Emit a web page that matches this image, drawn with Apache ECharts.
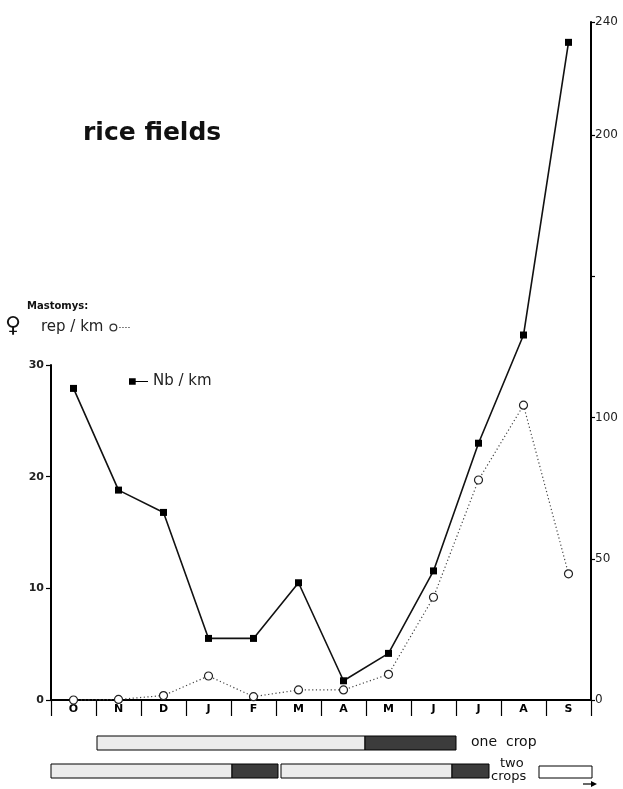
<!DOCTYPE html>
<html>
<head>
<meta charset="utf-8">
<script src="https://cdn.jsdelivr.net/npm/echarts@6/dist/echarts.min.js"></script>
<style>
html,body{margin:0;padding:0;background:#fff;}
#chart{width:623px;height:789px;}
</style>
</head>
<body>
<div id="chart"></div>
<script>
// ---- data ----
const months = ['O','N','D','J','F','M','A','M','J','J','A','S'];
// Mastomys : number per km (filled squares, right axis 0-240)
const nbPerKm = [110.3, 74.3, 66.4, 21.8, 21.8, 41.5, 6.8, 16.5, 45.7, 90.9, 129.2, 232.8];
// Mastomys : reproductive females per km (open circles, left axis 0-30)
const repPerKm = [0, 0.05, 0.4, 2.15, 0.3, 0.9, 0.9, 2.3, 9.2, 19.7, 26.4, 11.3];
const leftTicks = [0, 10, 20, 30];
const rightTicks = [0, 50, 100, 200, 240];

const FONT = 'DejaVu Sans';
const chart = echarts.init(document.getElementById('chart'));

const ringIcon = 'path://M4,0A4,4 0 1,1 4,8A4,4 0 1,1 4,0Z M4,1.3A2.7,2.7 0 1,0 4,6.7A2.7,2.7 0 1,0 4,1.3Z M10,3.5h1.2v1h-1.2z M13,3.5h1.2v1h-1.2z M16,3.5h1.2v1h-1.2z M19,3.5h1.2v1h-1.2z';
const squareIcon = 'path://M0,0H6V6H0Z M6,2.5H17V3.5H6Z';

chart.setOption({
  animation: false,
  backgroundColor: '#fff',
  title: {
    text: 'rice fields',
    left: 78, top: 116,
    textStyle: {fontFamily: FONT, fontSize: 25, fontWeight: 'bold', color: '#111'}
  },
  legend: [
    {
      data: [{name: 'Nb / km', icon: squareIcon}],
      left: 124, top: 369,
      itemWidth: 19, itemHeight: 7, itemGap: 10,
      itemStyle: {color: '#000', borderWidth: 0},
      textStyle: {fontFamily: FONT, fontSize: 15, color: '#222'}
    },
    {
      data: [{name: 'rep / km', icon: ringIcon}],
      left: 36, top: 315, align: 'right',
      itemWidth: 22, itemHeight: 8, itemGap: 6,
      itemStyle: {color: '#333', borderWidth: 0},
      textStyle: {fontFamily: FONT, fontSize: 15, color: '#222'}
    }
  ],
  grid: [
    {left: 51, right: 32, top: 365, bottom: 89},
    {left: 51, right: 32, top: 22, bottom: 89}
  ],
  xAxis: [
    {
      type: 'category', gridIndex: 0, data: months, boundaryGap: true,
      axisLine: {show: true, lineStyle: {color: '#000', width: 2}},
      axisTick: {show: true, interval: 0, inside: false, length: 16, lineStyle: {color: '#000', width: 1.2}},
      axisLabel: {margin: 4, interval: 0, fontFamily: FONT, fontSize: 11, fontWeight: 'bold', color: '#000'},
      splitLine: {show: false}
    },
    {
      type: 'category', gridIndex: 1, data: months, boundaryGap: true, offset: 16,
      axisLine: {show: true, lineStyle: {color: '#000', width: 1.2}},
      axisTick: {show: false}, axisLabel: {show: false}, splitLine: {show: false}
    }
  ],
  yAxis: [
    {
      type: 'value', gridIndex: 0, position: 'left', min: 0, max: 30, interval: 10,
      axisLine: {show: true, lineStyle: {color: '#000', width: 2}},
      axisTick: {show: true, inside: false, length: 5, lineStyle: {color: '#000', width: 1.2}},
      axisLabel: {margin: 7, fontFamily: FONT, fontSize: 11, fontWeight: 'bold', color: '#222',
        formatter: v => leftTicks.indexOf(v) >= 0 ? String(v) : ''},
      splitLine: {show: false}
    },
    {
      type: 'value', gridIndex: 1, position: 'right', min: 0, max: 240, interval: 50,
      axisLine: {show: true, lineStyle: {color: '#000', width: 2}},
      axisTick: {show: true, inside: false, length: 4, lineStyle: {color: '#000', width: 1.2}},
      axisLabel: {margin: 4, fontFamily: FONT, fontSize: 12, color: '#222',
        formatter: v => rightTicks.indexOf(v) >= 0 ? String(v) : ''},
      splitLine: {show: false}
    }
  ],
  series: [
    {
      name: 'rep / km', type: 'line', xAxisIndex: 0, yAxisIndex: 0,
      data: repPerKm, clip: false,
      symbol: 'circle', symbolSize: 8,
      itemStyle: {color: '#fff', borderColor: '#222', borderWidth: 1.2},
      lineStyle: {color: '#444', width: 1.2, type: [1.2, 2.5]},
      z: 3
    },
    {
      name: 'Nb / km', type: 'line', xAxisIndex: 1, yAxisIndex: 1,
      data: nbPerKm, clip: false,
      symbol: 'rect', symbolSize: 7,
      itemStyle: {color: '#000'},
      lineStyle: {color: '#111', width: 1.6},
      z: 4
    }
  ],
  graphic: [
    {type: 'text', left: 27, top: 301, style: {text: 'Mastomys:', fontFamily: FONT, fontSize: 10, fontWeight: 'bold', fill: '#111'}},
    {type: 'text', left: 5, top: 315, style: {text: '♀', fontFamily: FONT, fontSize: 22, fontWeight: 'bold', fill: '#111'}},
    // one crop
    {type: 'rect', shape: {x: 97, y: 736, width: 268, height: 14}, style: {fill: '#ececec', stroke: '#000', lineWidth: 1}},
    {type: 'rect', shape: {x: 365, y: 736, width: 91, height: 14}, style: {fill: '#3c3c3c', stroke: '#000', lineWidth: 1}},
    {type: 'text', left: 471, top: 735, style: {text: 'one  crop', fontFamily: FONT, fontSize: 14, fill: '#111'}},
    // two crops
    {type: 'rect', shape: {x: 51, y: 764, width: 181, height: 14}, style: {fill: '#ececec', stroke: '#000', lineWidth: 1}},
    {type: 'rect', shape: {x: 232, y: 764, width: 46, height: 14}, style: {fill: '#3c3c3c', stroke: '#000', lineWidth: 1}},
    {type: 'rect', shape: {x: 281, y: 764, width: 171, height: 14}, style: {fill: '#ececec', stroke: '#000', lineWidth: 1}},
    {type: 'rect', shape: {x: 452, y: 764, width: 37, height: 14}, style: {fill: '#3c3c3c', stroke: '#000', lineWidth: 1}},
    {type: 'text', left: 500, top: 757, style: {text: 'two', fontFamily: FONT, fontSize: 13, fill: '#111'}},
    {type: 'text', left: 491, top: 770, style: {text: 'crops', fontFamily: FONT, fontSize: 13, fill: '#111'}},
    {type: 'rect', shape: {x: 539, y: 766, width: 53, height: 12}, style: {fill: '#fff', stroke: '#000', lineWidth: 1}},
    {type: 'line', shape: {x1: 583, y1: 784, x2: 594, y2: 784}, style: {stroke: '#000', lineWidth: 1.2}},
    {type: 'polygon', shape: {points: [[597, 784], [591, 781], [591, 787]]}, style: {fill: '#000'}}
  ]
});
</script>
</body>
</html>
